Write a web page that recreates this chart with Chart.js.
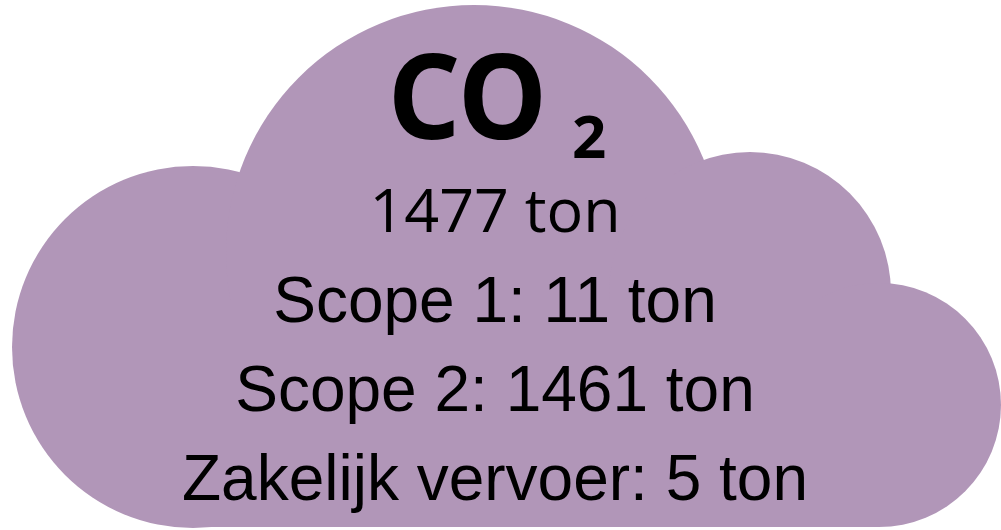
<!DOCTYPE html>
<html>
<head>
<meta charset="utf-8">
<script src="https://cdn.jsdelivr.net/npm/chart.js@4/dist/chart.umd.min.js"></script>
<style>
  html, body { margin: 0; padding: 0; background: #fff; }
  #wrap { width: 1001px; height: 530px; }
</style>
</head>
<body>
<div id="wrap"><canvas id="cloud" width="1001" height="530"></canvas></div>
<script>
// CO2 footprint, in ton
const title = 'CO';
const titleSub = '2';
const totalValue = 1477;
const unit = 'ton';
const categories = ['Scope 1', 'Scope 2', 'Zakelijk vervoer'];
const values = [11, 1461, 5];

const cloudColor = 'rgb(177,150,184)';

// cloud = a few overlapping circles plus a block for the flat bottom
const cloudPlugin = {
  id: 'cloud',
  beforeDatasetsDraw(chart) {
    const ctx = chart.ctx;
    ctx.save();
    ctx.fillStyle = cloudColor;
    const circles = [
      [193, 347, 181],
      [474, 253, 248],
      [750, 293, 141],
      [879, 405, 122]
    ];
    circles.forEach(([x, y, r]) => {
      ctx.beginPath();
      ctx.arc(x, y, r, 0, Math.PI * 2);
      ctx.fill();
    });
    ctx.fillRect(193, 300, 686, 227);
    ctx.restore();
  }
};

const labelPlugin = {
  id: 'labels',
  afterDraw(chart) {
    const ctx = chart.ctx;
    const vals = chart.data.datasets[0].data;
    const labs = chart.data.labels;
    const cx = 495;
    ctx.save();
    ctx.fillStyle = '#000';
    ctx.textBaseline = 'alphabetic';

    // title
    ctx.textAlign = 'left';
    ctx.font = 'bold 118px "Noto Sans"';
    ctx.fillText(title, 388, 139, 159);
    ctx.font = 'bold 60px "Noto Sans"';
    ctx.fillText(titleSub, 572, 158);

    ctx.textAlign = 'center';
    ctx.font = '61px "Open Sans"';
    ctx.fillText(`${totalValue} ${unit}`, cx, 232);

    ctx.font = '64px "Liberation Sans"';
    const baselines = [322, 411, 500];
    labs.forEach((lab, i) => {
      ctx.fillText(`${lab}: ${vals[i]} ${unit}`, cx, baselines[i]);
    });
    ctx.restore();
  }
};

new Chart(document.getElementById('cloud'), {
  type: 'bar',
  data: {
    labels: categories,
    datasets: [{ data: values, backgroundColor: 'rgba(0,0,0,0)' }]
  },
  options: {
    responsive: false,
    animation: false,
    layout: { padding: 0 },
    plugins: { legend: { display: false }, tooltip: { enabled: false } },
    scales: { x: { display: false }, y: { display: false } }
  },
  plugins: [cloudPlugin, labelPlugin]
});
</script>
</body>
</html>
